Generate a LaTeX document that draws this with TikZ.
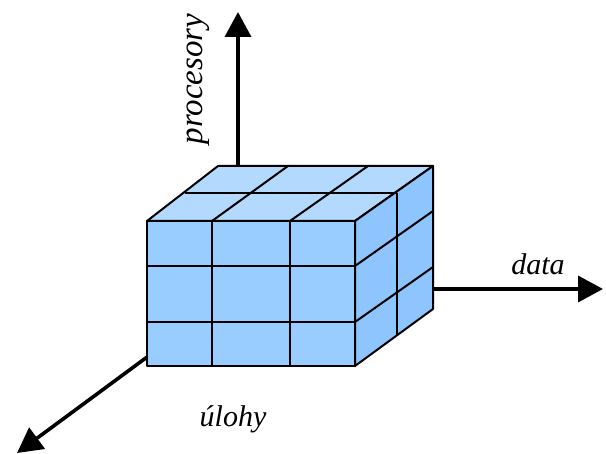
\documentclass[tikz,border=0pt]{standalone}
\usepackage{fontspec}
\setmainfont{Liberation Serif}
\usetikzlibrary{arrows.meta}
\definecolor{frontc}{HTML}{99CCFF}
\definecolor{topc}{HTML}{B3D9FF}
\definecolor{sidec}{HTML}{8EC5FF}
\tikzset{
  axis/.style={line width=3.6pt, -{Triangle[length=25pt,width=26pt]}},
  edge/.style={line width=2pt, line join=round},
  lbl/.style={font=\fontsize{30}{36}\selectfont\itshape, inner sep=0pt}
}
\begin{document}
\begin{tikzpicture}[x=1pt,y=-1pt]
\useasboundingbox (0,0) rectangle (606,454);
% axes (behind cube)
\coordinate (vs) at (238,200);
\coordinate (ve) at (238,12);
\coordinate (hs) at (400,289);
\coordinate (he) at (603,289);
\coordinate (ds) at (200,318);
\coordinate (de) at (17,453);
\draw[axis] (vs) -- (ve);
\draw[axis] (hs) -- (he);
\draw[axis] (ds) -- (de);
% cube corners
\coordinate (FTL) at (147,221);
\coordinate (FTR) at (355,221);
\coordinate (FBR) at (355,366);
\coordinate (FBL) at (147,366);
\coordinate (BTL) at (218,166);
\coordinate (BTR) at (433,166);
\coordinate (BBR) at (433,309);
% faces
\filldraw[edge, fill=topc] (FTL) -- (BTL) -- (BTR) -- (FTR) -- cycle;
\filldraw[edge, fill=sidec] (FTR) -- (BTR) -- (BBR) -- (FBR) -- cycle;
\filldraw[edge, fill=frontc] (FTL) -- (FTR) -- (FBR) -- (FBL) -- cycle;
% front grid
\draw[edge] (212,221) -- (212,366);
\draw[edge] (290,221) -- (290,366);
\draw[edge] (147,266) -- (355,266);
\draw[edge] (147,322) -- (355,322);
% top grid
\draw[edge] (185,193) -- (397,193);
\draw[edge] (212,221) -- (288,166);
\draw[edge] (290,221) -- (368,166);
% side grid
\draw[edge] (397,193) -- (397,335);
\draw[edge] (355,266) -- (433,211);
\draw[edge] (355,322) -- (433,267);
% labels
\node[lbl, anchor=base] (ldata) at (538,275) {data};
\node[lbl, anchor=base] (luloh) at (233,427) {úlohy};
\node[lbl, font=\fontsize{33}{40}\selectfont\itshape, anchor=base, rotate=90] (lproc) at (202,79) {procesory};
\end{tikzpicture}
\end{document}
